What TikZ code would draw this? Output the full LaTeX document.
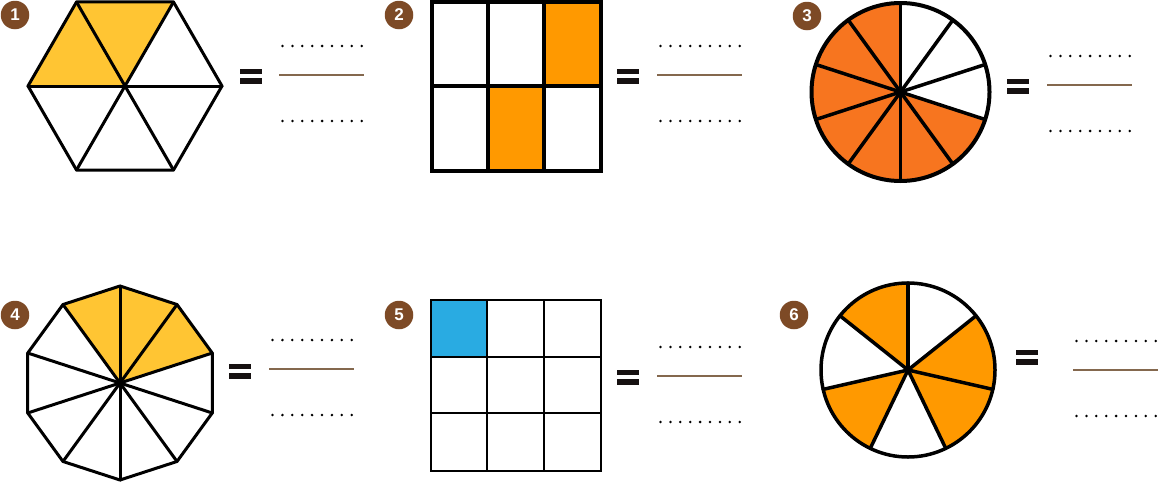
\documentclass[tikz,border=0pt]{standalone}
\usepackage{fontspec}
\setmainfont{Liberation Sans}
\definecolor{badge}{HTML}{7D4A26}
\definecolor{yel}{HTML}{FFC533}
\definecolor{org}{HTML}{FF9900}
\definecolor{orgdeep}{HTML}{F7751F}
\definecolor{blu}{HTML}{29ABE2}
\definecolor{fracline}{HTML}{84684E}
\definecolor{eqc}{HTML}{161111}
\tikzset{
  badgenode/.style={circle, fill=badge, minimum size=28.5pt, inner sep=0pt, text=white,
    font=\bfseries\fontsize{17}{17}\selectfont},
  outline/.style={line width=3pt, line join=round, line cap=round},
  eqpic/.pic={
    \fill[eqc] (-11,-7.5) rectangle (11,-1.8);
    \fill[eqc] (-11,1.8) rectangle (11,7.5);
  },
  blankpic/.pic={
    \draw[fracline, line width=1.3pt] (0,0) -- (85,0);
    \foreach \i in {0,...,8} {
      \fill (3.5+9.9*\i,-29) circle (1.4);
      \fill (3.5+9.9*\i,46) circle (1.4);
    }
  }
}
\begin{document}
\begin{tikzpicture}[x=1pt,y=-1pt]
\useasboundingbox (0,0) rectangle (1158,482);

% ---------- 1: hexagon ----------
\begin{scope}[shift={(125,86)}]
  \fill[yel] (0,0) -- (-180:97) -- (-120:97) -- (-60:97) -- cycle;
  \draw[outline] (0:97) -- (-60:97) -- (-120:97) -- (-180:97) -- (-240:97) -- (-300:97) -- cycle;
  \foreach \a in {0,60,120} \draw[outline] (\a:97) -- (\a+180:97);
\end{scope}
\node[badgenode] (b1) at (15,15) {1};
\pic at (251,76) {eqpic};
\pic at (279,75) {blankpic};

% ---------- 2: 2x3 grid ----------
\fill[org] (544,2) rectangle (601,86);
\fill[org] (488,86) rectangle (544,171);
\draw[line width=4pt] (432,2) rectangle (601,171);
\draw[line width=4pt] (488,2) -- (488,171);
\draw[line width=4pt] (544,2) -- (544,171);
\draw[line width=4pt] (432,86) -- (601,86);
\node[badgenode] (b2) at (399,15) {2};
\pic at (628,76) {eqpic};
\pic at (657,75) {blankpic};

% ---------- 3: circle in 10 ----------
\begin{scope}[shift={(900.5,92)}]
  \fill[orgdeep] (0,0) -- (-90:89) arc (-90:-342:89) -- cycle;
  \foreach \a in {18,54,90,126,162} \draw[line width=3.5pt] (\a:89) -- (\a+180:89);
  \draw[line width=4pt] (0,0) circle (89);
\end{scope}
\node[badgenode] (b3) at (807,16) {3};
\pic at (1018,86) {eqpic};
\pic at (1047,85) {blankpic};

% ---------- 4: decagon ----------
\begin{scope}[shift={(120,383)}]
  \fill[yel] (0,0) -- (-18:97) -- (-54:97) -- (-90:97) -- (-126:97) -- cycle;
  \draw[outline] (18:97) \foreach \k in {1,...,9} { -- (18+36*\k:97) } -- cycle;
  \foreach \a in {18,54,90,126,162} \draw[outline] (\a:97) -- (\a+180:97);
\end{scope}
\node[badgenode] (b4) at (15,315) {4};
\pic at (240,371) {eqpic};
\pic at (269,369) {blankpic};

% ---------- 5: 3x3 grid ----------
\fill[blu] (431,300) rectangle (487,357);
\draw[line width=2.2pt] (431,300) rectangle (601,471);
\draw[line width=2.2pt] (487,300) -- (487,471);
\draw[line width=2.2pt] (544,300) -- (544,471);
\draw[line width=2.2pt] (431,357) -- (601,357);
\draw[line width=2.2pt] (431,413) -- (601,413);
\node[badgenode] (b5) at (399,315) {5};
\pic at (628,377) {eqpic};
\pic at (657,376) {blankpic};

% ---------- 6: circle in 7 ----------
\begin{scope}[shift={(908,370)}]
  \foreach \k in {0,2,4,5}
    \fill[org] (0,0) -- (-90-51.4286*\k:87) arc (-90-51.4286*\k:-90-51.4286*\k-51.4286:87) -- cycle;
  \foreach \k in {0,...,6} \draw[line width=3.5pt, line cap=round] (0,0) -- (-90-51.4286*\k:87);
  \draw[line width=3.5pt] (0,0) circle (87);
\end{scope}
\node[badgenode] (b6) at (794,315) {6};
\pic at (1027,357) {eqpic};
\pic at (1073,370) {blankpic};
\end{tikzpicture}
\end{document}
